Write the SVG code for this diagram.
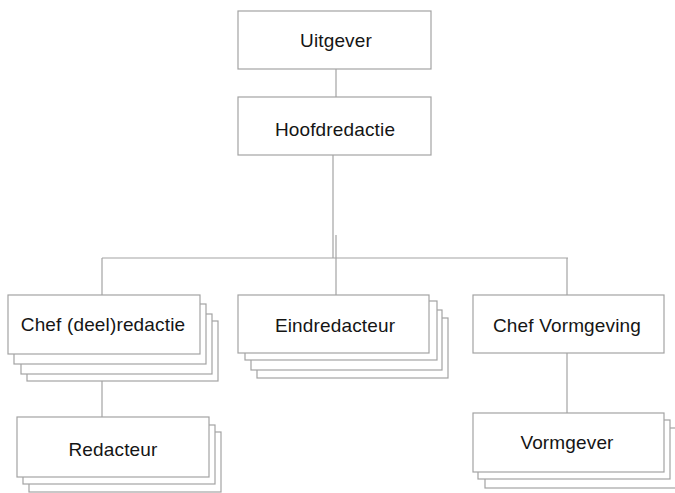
<svg xmlns="http://www.w3.org/2000/svg" width="675" height="493" viewBox="0 0 675 493">
  <style>
    .box { fill: #ffffff; stroke: #a3a3a3; stroke-width: 1.2; }
    .link { fill: none; stroke: #a3a3a3; stroke-width: 1.2; }
    .label { font-family: "Liberation Sans", Arial, sans-serif; font-size: 19px; fill: #151515; text-anchor: middle; letter-spacing: 0.15px; }
  </style>
  <rect width="675" height="493" fill="#ffffff"/>

  <!-- connectors -->
  <g id="connectors">
    <line class="link" x1="336" y1="69" x2="336" y2="97"/>
    <line class="link" x1="333" y1="155" x2="333" y2="258"/>
    <line class="link" x1="102" y1="258" x2="568" y2="258"/>
    <line class="link" x1="102" y1="258" x2="102" y2="295"/>
    <line class="link" x1="336" y1="235" x2="336" y2="295"/>
    <line class="link" x1="567" y1="258" x2="567" y2="295"/>
    <line class="link" x1="102" y1="381" x2="102" y2="417"/>
    <line class="link" x1="567" y1="353" x2="567" y2="413"/>
  </g>

  <!-- nodes -->
  <g id="uitgever">
    <rect class="box" x="238" y="11" width="193" height="58"/>
    <text class="label" x="336" y="47">Uitgever</text>
  </g>

  <g id="hoofdredactie">
    <rect class="box" x="238" y="97" width="193" height="58"/>
    <text class="label" x="335" y="136">Hoofdredactie</text>
  </g>

  <g id="chef-deelredactie">
    <rect class="box" x="27" y="321" width="191" height="60"/>
    <rect class="box" x="21" y="314" width="191" height="60"/>
    <rect class="box" x="14" y="304" width="192" height="60"/>
    <rect class="box" x="8" y="295" width="192" height="59"/>
    <text class="label" x="103" y="331">Chef (deel)redactie</text>
  </g>

  <g id="eindredacteur">
    <rect class="box" x="257" y="318" width="191" height="60"/>
    <rect class="box" x="251" y="310" width="191" height="60"/>
    <rect class="box" x="245" y="301" width="192" height="59"/>
    <rect class="box" x="238" y="295" width="191" height="58"/>
    <text class="label" x="335" y="332">Eindredacteur</text>
  </g>

  <g id="chef-vormgeving">
    <rect class="box" x="473" y="295" width="191" height="58"/>
    <text class="label" x="567" y="332">Chef Vormgeving</text>
  </g>

  <g id="redacteur">
    <rect class="box" x="29" y="432" width="192" height="60"/>
    <rect class="box" x="23" y="425" width="192" height="59"/>
    <rect class="box" x="17" y="417" width="192" height="60"/>
    <text class="label" x="113" y="456">Redacteur</text>
  </g>

  <g id="vormgever">
    <rect class="box" x="485" y="428" width="192" height="60"/>
    <rect class="box" x="478" y="420" width="192" height="59"/>
    <rect class="box" x="473" y="413" width="191" height="59"/>
    <text class="label" x="567" y="449">Vormgever</text>
  </g>
</svg>
